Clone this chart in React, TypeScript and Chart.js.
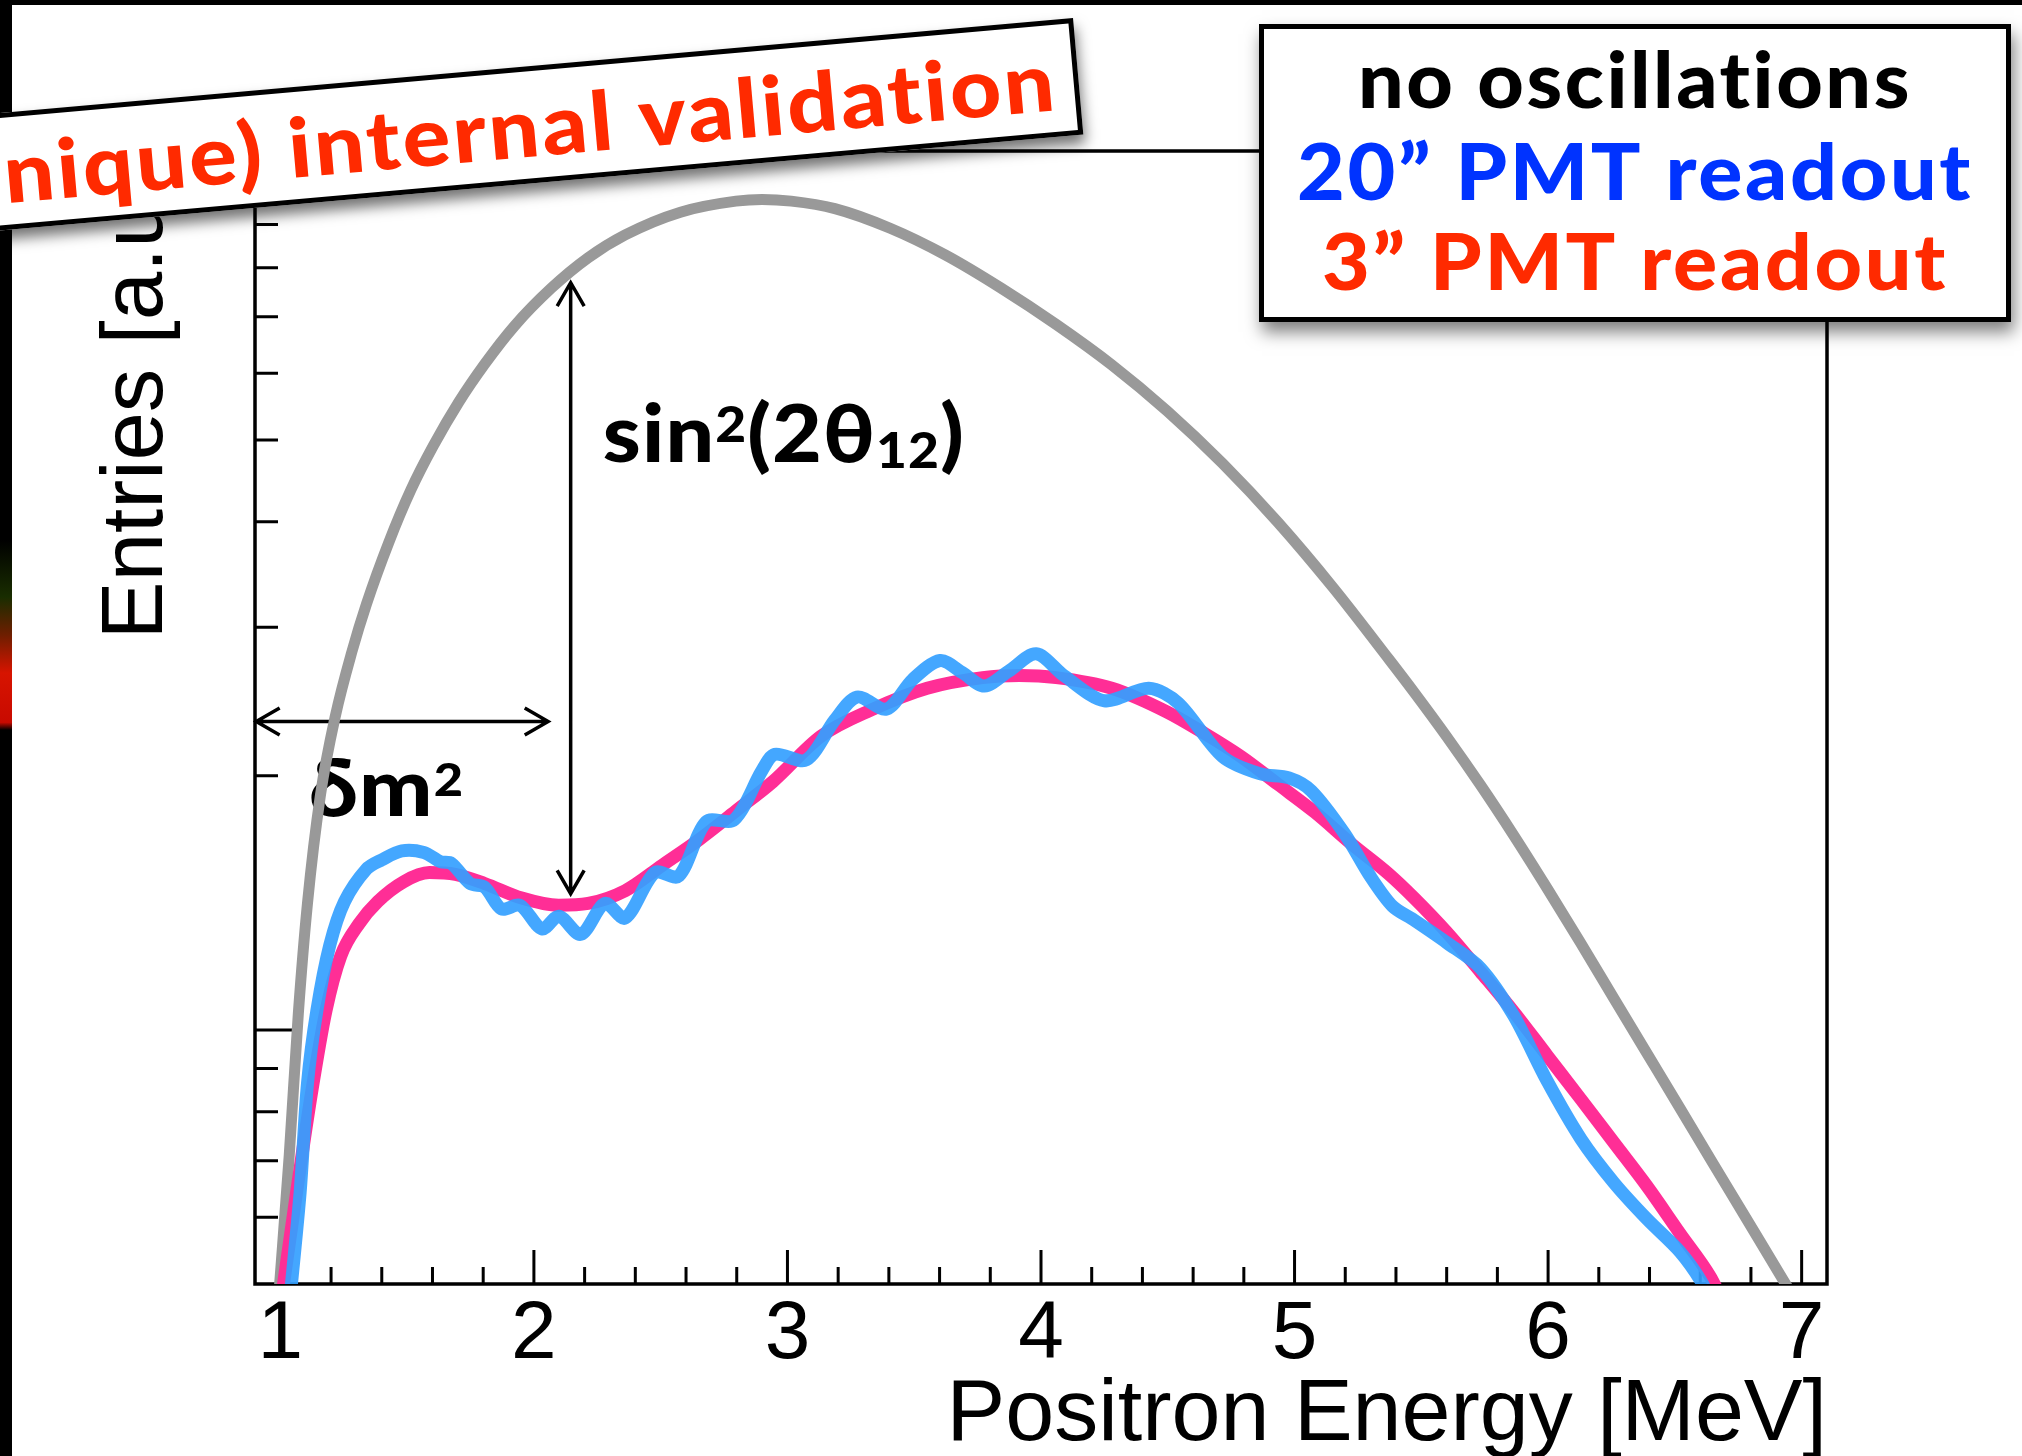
import React, { useEffect, useRef } from 'react';
import { Chart, registerables } from 'chart.js';

Chart.register(...registerables);

const W = 2022;
const H = 1456;

// ---- data: positron energy [MeV] vs entries [a.u.] (log axis) ----
const noOscEnergy = [0.995, 1.035, 1.071, 1.107, 1.158, 1.217, 1.282, 1.34, 1.428, 1.515, 1.603, 1.704, 1.806, 1.923, 2.069, 2.214, 2.36, 2.578, 2.797, 2.9, 3.015, 3.187, 3.405, 3.624, 3.842, 4.061, 4.279, 4.498, 4.716, 4.935, 5.153, 5.372, 5.47, 5.6, 5.733, 5.864, 5.996, 6.127, 6.26, 6.39, 6.52, 6.65, 6.78, 6.915, 6.96];
const noOscEntries = [0.49, 0.71, 1.047, 1.413, 1.897, 2.355, 2.805, 3.199, 3.784, 4.365, 4.92, 5.546, 6.152, 6.823, 7.568, 8.222, 8.75, 9.31, 9.594, 9.638, 9.594, 9.4, 8.91, 8.28, 7.57, 6.85, 6.138, 5.41, 4.69, 3.992, 3.34, 2.75, 2.516, 2.226, 1.951, 1.701, 1.472, 1.27, 1.089, 0.938, 0.808, 0.695, 0.599, 0.5125, 0.487];

const pmt3Energy = [1.0, 1.064, 1.122, 1.18, 1.238, 1.311, 1.384, 1.486, 1.588, 1.69, 1.806, 1.952, 2.098, 2.214, 2.36, 2.506, 2.651, 2.797, 2.942, 3.132, 3.333, 3.551, 3.77, 3.915, 4.06, 4.279, 4.498, 4.643, 4.789, 4.935, 5.08, 5.226, 5.372, 5.47, 5.6, 5.733, 5.864, 5.996, 6.129, 6.26, 6.39, 6.52, 6.64, 6.67];
const pmt3Entries = [0.47, 0.642, 0.839, 1.054, 1.223, 1.337, 1.419, 1.498, 1.536, 1.529, 1.491, 1.433, 1.405, 1.412, 1.462, 1.567, 1.68, 1.818, 1.968, 2.228, 2.396, 2.54, 2.615, 2.63, 2.615, 2.54, 2.38, 2.247, 2.108, 1.954, 1.811, 1.66, 1.53, 1.435, 1.306, 1.172, 1.051, 0.933, 0.828, 0.735, 0.653, 0.574, 0.51, 0.49];

const pmt20Energy = [1.035, 1.078, 1.107, 1.144, 1.195, 1.253, 1.34, 1.399, 1.479, 1.566, 1.632, 1.675, 1.748, 1.806, 1.872, 1.945, 2.032, 2.098, 2.185, 2.28, 2.36, 2.477, 2.571, 2.68, 2.79, 2.899, 2.95, 3.074, 3.187, 3.274, 3.391, 3.493, 3.602, 3.69, 3.777, 3.872, 3.981, 4.09, 4.25, 4.425, 4.541, 4.716, 4.862, 4.978, 5.066, 5.197, 5.299, 5.386, 5.47, 5.6, 5.733, 5.864, 5.996, 6.129, 6.26, 6.39, 6.52, 6.61, 6.63];
const pmt20Entries = [0.47, 0.642, 0.864, 1.054, 1.26, 1.419, 1.551, 1.59, 1.63, 1.623, 1.582, 1.575, 1.491, 1.476, 1.391, 1.405, 1.317, 1.364, 1.298, 1.412, 1.357, 1.536, 1.521, 1.765, 1.774, 2.028, 2.121, 2.089, 2.33, 2.48, 2.4, 2.6, 2.74, 2.65, 2.555, 2.66, 2.79, 2.63, 2.455, 2.54, 2.44, 2.108, 2.012, 1.989, 1.92, 1.709, 1.52, 1.402, 1.35, 1.269, 1.184, 1.04, 0.87, 0.743, 0.659, 0.597, 0.546, 0.5, 0.48];

// ---- axes ----
const xLimits = [0.9, 7.1];
const yLimits = [0.5, 11];
const xMajorTicks = [1, 2, 3, 4, 5, 6, 7];
const xMinorTicks = [1.2, 1.4, 1.6, 1.8, 2.2, 2.4, 2.6, 2.8, 3.2, 3.4, 3.6, 3.8, 4.2, 4.4, 4.6, 4.8, 5.2, 5.4, 5.6, 5.8, 6.2, 6.4, 6.6, 6.8];
const yMajorTicks = [1, 10];
const yMinorTicks = [0.6, 0.7, 0.8, 0.9, 2, 3, 4, 5, 6, 7, 8, 9];
const xTitle = 'Positron Energy [MeV]';
const yTitle = 'Entries [a.u.]';

// ---- annotations (data coordinates) ----
const dm2Arrow = { y: 2.32, xFrom: 0.905, xTo: 2.056 };
const sinArrow = { x: 2.145, yFrom: 1.45, yTo: 7.68 };
const dm2Label = { x: 1.113, y: 1.793 };
const sinLabel = { x: 2.272, y: 4.71 };

const legendLines = ['no oscillations', '20\u201D PMT readout', '3\u201D PMT readout'];
const legendColors = ['#000000', '#0033ff', '#ff2a00'];
const bannerText = '(unique) internal validation';
const bannerVisible = 'nique) internal validation';

const SANS = "'Liberation Sans', Arial, Helvetica, sans-serif";
const BOLD = "Lato, 'Open Sans', 'DejaVu Sans', sans-serif";

type Seg = { t: string; s: number; dy: number };

function textSetup(ctx: CanvasRenderingContext2D, spacing: number) {
  const c = ctx as any;
  try { c.textRendering = 'optimizeSpeed'; } catch (e) { /* ignore */ }
  try { c.letterSpacing = `${spacing}px`; } catch (e) { /* ignore */ }
}

function drawRich(ctx: CanvasRenderingContext2D, segs: Seg[], x: number, y: number, size: number, width: number, color: string) {
  ctx.save();
  textSetup(ctx, 1);
  let total = 0;
  const widths = segs.map((g) => {
    ctx.font = `900 ${size * g.s}px ${BOLD}`;
    const w = ctx.measureText(g.t).width;
    total += w;
    return w;
  });
  ctx.translate(x, y);
  ctx.scale(width / total, 1);
  ctx.fillStyle = color;
  ctx.textAlign = 'left';
  ctx.textBaseline = 'alphabetic';
  let cx = 0;
  segs.forEach((g, i) => {
    ctx.font = `900 ${size * g.s}px ${BOLD}`;
    ctx.fillText(g.t, cx, g.dy);
    cx += widths[i];
  });
  ctx.restore();
}

function drawFitted(ctx: CanvasRenderingContext2D, text: string, fitText: string, x: number, y: number, size: number, width: number, align: CanvasTextAlign, color: string) {
  ctx.save();
  textSetup(ctx, 2.5);
  ctx.font = `900 ${size}px ${BOLD}`;
  const w = ctx.measureText(fitText).width;
  ctx.translate(x, y);
  ctx.scale(width / w, 1);
  ctx.textAlign = align;
  ctx.textBaseline = 'alphabetic';
  ctx.fillStyle = color;
  ctx.fillText(text, 0, 0);
  ctx.restore();
}

function arrowHead(ctx: CanvasRenderingContext2D, tx: number, ty: number, dx: number, dy: number) {
  const len = 27;
  const half = Math.PI / 6;
  const a = Math.atan2(dy, dx);
  ctx.moveTo(tx - len * Math.cos(a - half), ty - len * Math.sin(a - half));
  ctx.lineTo(tx, ty);
  ctx.lineTo(tx - len * Math.cos(a + half), ty - len * Math.sin(a + half));
}

const decorPlugin = {
  id: 'decor',
  beforeDraw(chart: any) {
    const ctx: CanvasRenderingContext2D = chart.ctx;
    ctx.save();
    ctx.fillStyle = '#ffffff';
    ctx.fillRect(0, 0, chart.width, chart.height);
    ctx.fillStyle = '#000000';
    ctx.fillRect(0, 0, chart.width, 5);
    ctx.fillRect(0, 0, 12, chart.height);
    const g = ctx.createLinearGradient(0, 540, 0, 730);
    g.addColorStop(0, 'rgba(0,0,0,1)');
    g.addColorStop(0.3, 'rgba(25,45,0,1)');
    g.addColorStop(0.5, 'rgba(110,30,0,1)');
    g.addColorStop(0.7, 'rgba(215,20,0,1)');
    g.addColorStop(0.96, 'rgba(200,10,0,1)');
    g.addColorStop(1, 'rgba(0,0,0,1)');
    ctx.fillStyle = g;
    ctx.fillRect(0, 540, 12, 190);
    ctx.restore();
  },
  beforeDatasetsDraw(chart: any) {
    const ctx: CanvasRenderingContext2D = chart.ctx;
    const a = chart.chartArea;
    const xs = chart.scales.x;
    const ys = chart.scales.y;
    ctx.save();
    ctx.strokeStyle = '#000';
    ctx.lineWidth = 3;
    ctx.beginPath();
    xMajorTicks.forEach((v) => { const p = xs.getPixelForValue(v); ctx.moveTo(p, a.bottom); ctx.lineTo(p, a.bottom - 34); });
    xMinorTicks.forEach((v) => { const p = xs.getPixelForValue(v); ctx.moveTo(p, a.bottom); ctx.lineTo(p, a.bottom - 17); });
    yMajorTicks.forEach((v) => { const p = ys.getPixelForValue(v); ctx.moveTo(a.left, p); ctx.lineTo(a.left + 38, p); });
    yMinorTicks.forEach((v) => { const p = ys.getPixelForValue(v); ctx.moveTo(a.left, p); ctx.lineTo(a.left + 23, p); });
    ctx.stroke();
    ctx.lineWidth = 3.5;
    ctx.strokeRect(a.left, a.top, a.right - a.left, a.bottom - a.top);

    // arrows
    ctx.lineWidth = 3.5;
    ctx.lineJoin = 'miter';
    ctx.beginPath();
    const hy = ys.getPixelForValue(dm2Arrow.y);
    const hx0 = xs.getPixelForValue(dm2Arrow.xFrom);
    const hx1 = xs.getPixelForValue(dm2Arrow.xTo);
    ctx.moveTo(hx0, hy); ctx.lineTo(hx1, hy);
    arrowHead(ctx, hx0, hy, -1, 0);
    arrowHead(ctx, hx1, hy, 1, 0);
    const vx = xs.getPixelForValue(sinArrow.x);
    const vy0 = ys.getPixelForValue(sinArrow.yFrom);
    const vy1 = ys.getPixelForValue(sinArrow.yTo);
    ctx.moveTo(vx, vy0); ctx.lineTo(vx, vy1);
    arrowHead(ctx, vx, vy0, 0, 1);
    arrowHead(ctx, vx, vy1, 0, -1);
    ctx.stroke();

    drawRich(ctx, [
      { t: '\u03B4m', s: 1, dy: 0 },
      { t: '2', s: 0.58, dy: -20 },
    ], xs.getPixelForValue(dm2Label.x), ys.getPixelForValue(dm2Label.y), 80, 155, '#000');
    drawRich(ctx, [
      { t: 'sin', s: 1, dy: 0 },
      { t: '2', s: 0.62, dy: -20 },
      { t: '(2\u03B8', s: 1, dy: 0 },
      { t: '12', s: 0.62, dy: 6 },
      { t: ')', s: 1, dy: 0 },
    ], xs.getPixelForValue(sinLabel.x), ys.getPixelForValue(sinLabel.y), 80, 362, '#000');
    ctx.restore();
  },
  afterDraw(chart: any) {
    const ctx: CanvasRenderingContext2D = chart.ctx;
    // banner
    ctx.save();
    ctx.translate(1073, 18);
    ctx.rotate(-5.06 * Math.PI / 180);
    ctx.save();
    ctx.shadowColor = 'rgba(0,0,0,0.55)';
    ctx.shadowBlur = 14;
    ctx.shadowOffsetX = 2;
    ctx.shadowOffsetY = 9;
    ctx.fillStyle = '#fff';
    ctx.fillRect(-1300, 0, 1300, 117);
    ctx.restore();
    ctx.lineWidth = 5;
    ctx.strokeStyle = '#000';
    ctx.strokeRect(-1300 + 2.5, 2.5, 1300 - 5, 117 - 5);
    drawFitted(ctx, bannerText, bannerVisible, -22, 90.4, 82, 1057, 'right', '#ff2a00');
    ctx.restore();

    // legend box
    ctx.save();
    ctx.save();
    ctx.shadowColor = 'rgba(0,0,0,0.5)';
    ctx.shadowBlur = 16;
    ctx.shadowOffsetX = 3;
    ctx.shadowOffsetY = 10;
    ctx.fillStyle = '#fff';
    ctx.fillRect(1259, 24, 752, 298);
    ctx.restore();
    ctx.lineWidth = 5;
    ctx.strokeStyle = '#000';
    ctx.strokeRect(1261.5, 26.5, 747, 293);
    const baselines = [108, 200, 290];
    const widths = [554, 676, 626];
    legendLines.forEach((t, i) => drawFitted(ctx, t, t, 1635, baselines[i], 78, widths[i], 'center', legendColors[i]));
    ctx.restore();
  },
};

function toPoints(xs: number[], ys: number[]) {
  return xs.map((x, i) => ({ x, y: ys[i] }));
}

export default function App() {
  const ref = useRef<HTMLCanvasElement>(null);
  useEffect(() => {
    document.body.style.margin = '0';
    const canvas = ref.current!;
    const chart = new Chart(canvas, {
      type: 'line',
      data: {
        datasets: [
          { label: '20\u201D PMT readout', data: toPoints(pmt20Energy, pmt20Entries), borderColor: 'rgba(52,160,255,0.92)', borderWidth: 13, pointRadius: 0, tension: 0.3, fill: false, borderJoinStyle: 'round', borderCapStyle: 'round' },
          { label: '3\u201D PMT readout', data: toPoints(pmt3Energy, pmt3Entries), borderColor: '#ff2e96', borderWidth: 13, pointRadius: 0, cubicInterpolationMode: 'monotone', fill: false, borderJoinStyle: 'round', borderCapStyle: 'round' },
          { label: 'no oscillations', data: toPoints(noOscEnergy, noOscEntries), borderColor: '#999999', borderWidth: 11, pointRadius: 0, cubicInterpolationMode: 'monotone', fill: false, borderJoinStyle: 'round', borderCapStyle: 'round' },
        ] as any,
      },
      options: {
        responsive: false,
        devicePixelRatio: 1,
        animation: false,
        events: [],
        layout: { padding: { left: 0, top: 151, right: 195, bottom: 0 } },
        plugins: { legend: { display: false }, tooltip: { enabled: false } },
        scales: {
          x: {
            type: 'linear',
            min: xLimits[0],
            max: xLimits[1],
            grid: { display: false, drawTicks: false },
            border: { display: false },
            ticks: { color: '#000', font: { family: SANS, size: 82, lineHeight: 1 }, padding: 10, maxRotation: 0, autoSkip: false },
            afterBuildTicks: (s: any) => { s.ticks = xMajorTicks.map((v) => ({ value: v })); },
            afterFit: (s: any) => { s.height = 172; },
            title: { display: true, text: xTitle, align: 'end', color: '#000', font: { family: SANS, size: 88, lineHeight: 0.88 }, padding: { top: 0, bottom: 2 } },
          },
          y: {
            type: 'logarithmic',
            min: yLimits[0],
            max: yLimits[1],
            grid: { display: false, drawTicks: false },
            border: { display: false },
            ticks: { display: false },
            afterFit: (s: any) => { s.width = 255; },
            title: { display: true, text: yTitle, align: 'end', color: '#000', font: { family: SANS, size: 87, lineHeight: 1 }, padding: { top: 95, bottom: 0 } },
          },
        },
      } as any,
      plugins: [decorPlugin],
    });
    return () => chart.destroy();
  }, []);
  return (
    <div style={{ width: W, height: H, overflow: 'hidden', background: '#fff' }}>
      <canvas ref={ref} width={W} height={H} style={{ display: 'block', width: W, height: H }} />
    </div>
  );
}
